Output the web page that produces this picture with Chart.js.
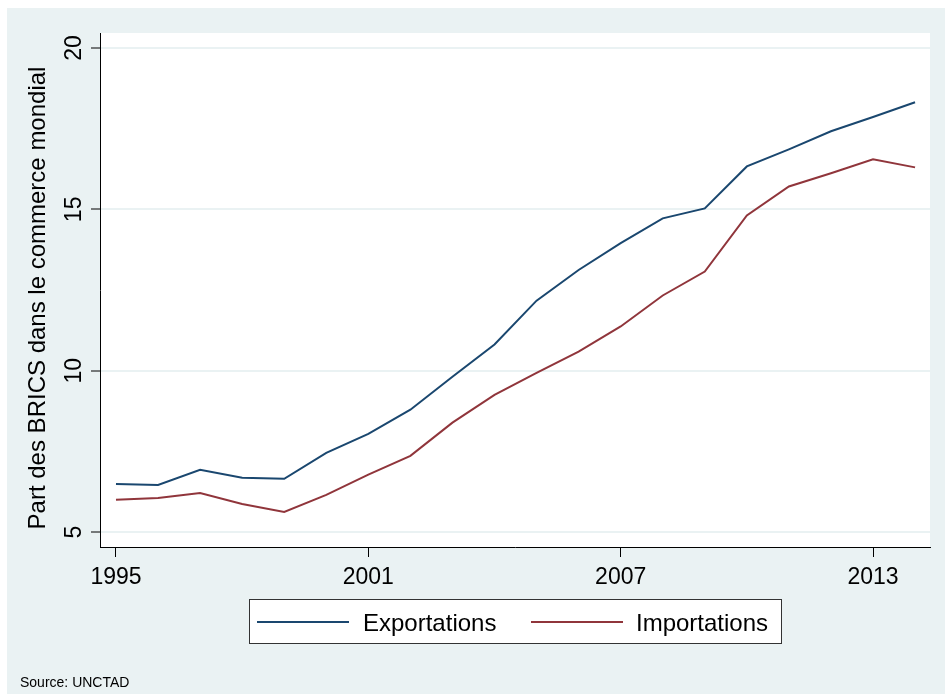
<!DOCTYPE html>
<html>
<head>
<meta charset="utf-8">
<script src="https://cdn.jsdelivr.net/npm/chart.js@4/dist/chart.umd.min.js"></script>
<style>
html,body{margin:0;padding:0;background:#fff;}
#wrap{width:945px;height:694px;position:relative;}
</style>
</head>
<body>
<div id="wrap"><canvas id="c" width="945" height="694"></canvas></div>
<script>
const years = [1995,1996,1997,1998,1999,2000,2001,2002,2003,2004,2005,2006,2007,2008,2009,2010,2011,2012,2013,2014];
const exportations = [6.49,6.46,6.93,6.68,6.65,7.45,8.04,8.79,9.81,10.81,12.17,13.12,13.95,14.72,15.03,16.33,16.86,17.42,17.86,18.32];
const importations = [6.00,6.05,6.21,5.87,5.62,6.15,6.78,7.36,8.39,9.25,9.93,10.59,11.37,12.33,13.07,14.81,15.71,16.12,16.55,16.30];
const xTickLabels = [1995,2001,2007,2013];
const yTickLabels = [5,10,15,20];
const seriesNames = ['Exportations','Importations'];
const yTitle = 'Part des BRICS dans le commerce mondial';
const sourceText = 'Source: UNCTAD';

const FONT = '"Liberation Sans", Arial, Helvetica, sans-serif';
const BG = '#EAF2F3';
const BLUE = '#1A476F';
const RED = '#90353B';

const decor = {
  id: 'decor',
  beforeDraw(chart) {
    const ctx = chart.ctx, a = chart.chartArea;
    ctx.save();
    ctx.fillStyle = '#ffffff';
    ctx.fillRect(0, 0, chart.width, chart.height);
    ctx.fillStyle = BG;
    ctx.fillRect(7, 8, chart.width - 7, chart.height - 8);
    ctx.fillStyle = '#ffffff';
    ctx.fillRect(a.left, a.top, a.right - a.left, a.bottom - a.top);
    ctx.restore();
  },
  afterDraw(chart) {
    const ctx = chart.ctx, a = chart.chartArea;
    const xs = chart.scales.x, ys = chart.scales.y;
    ctx.save();
    ctx.fillStyle = '#000';
    // y tick labels, rotated
    ctx.font = '23px ' + FONT;
    ctx.textAlign = 'center';
    ctx.textBaseline = 'alphabetic';
    ys.ticks.forEach(t => {
      const py = ys.getPixelForValue(t.value);
      ctx.save();
      ctx.translate(81, py);
      ctx.rotate(-Math.PI / 2);
      ctx.fillText(String(t.value), 0, 0);
      ctx.restore();
    });
    // y title
    ctx.font = '24px ' + FONT;
    ctx.save();
    ctx.translate(45, 298);
    ctx.rotate(-Math.PI / 2);
    ctx.fillText(yTitle, 0, 0);
    ctx.restore();
    // x tick labels
    ctx.font = '23px ' + FONT;
    xs.ticks.forEach(t => {
      const px = xs.getPixelForValue(t.value);
      ctx.fillText(String(t.value), px, 584);
    });
    // legend
    const lx = 249, ly = 599, lw = 532, lh = 44;
    ctx.fillStyle = '#ffffff';
    ctx.fillRect(lx, ly, lw, lh);
    ctx.strokeStyle = '#333';
    ctx.lineWidth = 1;
    ctx.strokeRect(lx + 0.5, ly + 0.5, lw, lh);
    const items = [
      {x1: 257, x2: 349, tx: 363},
      {x1: 531, x2: 623, tx: 636}
    ];
    ctx.font = '24px ' + FONT;
    ctx.textAlign = 'left';
    chart.data.datasets.forEach((ds, i) => {
      const it = items[i];
      ctx.strokeStyle = ds.borderColor;
      ctx.lineWidth = 2;
      ctx.beginPath();
      ctx.moveTo(it.x1, 622);
      ctx.lineTo(it.x2, 622);
      ctx.stroke();
      ctx.fillStyle = '#000';
      ctx.fillText(ds.label, it.tx, 631);
    });
    // source
    ctx.font = '14px ' + FONT;
    ctx.fillText(sourceText, 20, 687);
    ctx.restore();
  }
};

new Chart(document.getElementById('c'), {
  type: 'line',
  data: {
    datasets: [
      {
        label: seriesNames[0],
        data: years.map((y, i) => ({x: y, y: exportations[i]})),
        borderColor: BLUE,
        borderWidth: 2,
        pointRadius: 0,
        fill: false,
        tension: 0
      },
      {
        label: seriesNames[1],
        data: years.map((y, i) => ({x: y, y: importations[i]})),
        borderColor: RED,
        borderWidth: 2,
        pointRadius: 0,
        fill: false,
        tension: 0
      }
    ]
  },
  options: {
    responsive: false,
    animation: false,
    layout: {padding: {left: 91, top: 33, right: 15, bottom: 137}},
    plugins: {legend: {display: false}, title: {display: false}, tooltip: {enabled: false}},
    scales: {
      x: {
        type: 'linear',
        min: 1994.62,
        max: 2014.355,
        afterBuildTicks: s => { s.ticks = xTickLabels.map(v => ({value: v})); },
        ticks: {display: false},
        grid: {drawOnChartArea: false, drawTicks: true, tickLength: 10, tickColor: '#000', tickWidth: 1},
        border: {display: true, color: '#000', width: 1}
      },
      y: {
        type: 'linear',
        min: 4.535,
        max: 20.465,
        afterBuildTicks: s => { s.ticks = yTickLabels.map(v => ({value: v})); },
        ticks: {display: false},
        grid: {color: BG, lineWidth: 2, drawTicks: true, tickLength: 9, tickColor: '#000', tickWidth: 1},
        border: {display: true, color: '#000', width: 1}
      }
    }
  },
  plugins: [decor]
});
</script>
</body>
</html>
